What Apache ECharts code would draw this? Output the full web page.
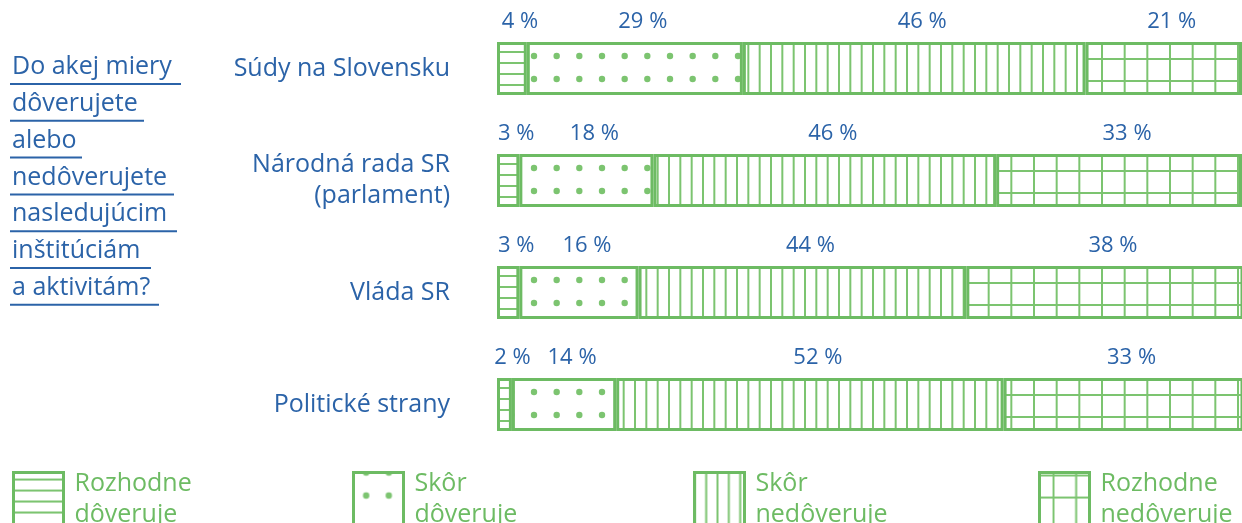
<!DOCTYPE html>
<html>
<head>
<meta charset="utf-8">
<script src="https://cdn.jsdelivr.net/npm/echarts@6/dist/echarts.min.js"></script>
<style>html,body{margin:0;padding:0;background:#fff}#c{width:1242px;height:523px}</style>
</head>
<body>
<div id="c"></div>
<script>
const categories = ['Súdy na Slovensku', 'Národná rada SR\n(parlament)', 'Vláda SR', 'Politické strany'];
const seriesNames = ['Rozhodne dôveruje', 'Skôr dôveruje', 'Skôr nedôveruje', 'Rozhodne nedôveruje'];
const legendLabels = ['Rozhodne\ndôveruje', 'Skôr\ndôveruje', 'Skôr\nnedôveruje', 'Rozhodne\nnedôveruje'];
const rozhodneDoveruje = [4, 3, 3, 2];
const skorDoveruje = [29, 18, 16, 14];
const skorNedoveruje = [46, 46, 44, 52];
const rozhodneNedoveruje = [21, 33, 38, 33];
const titleLines = ['Do akej miery', 'dôverujete', 'alebo', 'nedôverujete', 'nasledujúcim', 'inštitúciám', 'a aktivitám?'];

const BLUE = '#2b63a8';
const GREEN = '#6dbb63';
const LINE = '#7cc470';
const FONT = '"Open Sans", sans-serif';

function makeTile(w, h, draw) {
  const c = document.createElement('canvas');
  c.width = w; c.height = h;
  const ctx = c.getContext('2d');
  ctx.fillStyle = '#fff';
  ctx.fillRect(0, 0, w, h);
  ctx.strokeStyle = LINE;
  ctx.fillStyle = LINE;
  ctx.lineWidth = 2;
  draw(ctx, w, h);
  return { image: c, repeat: 'repeat' };
}
const patHLines = makeTile(20, 56, (ctx, w) => {
  [7, 18, 29, 40, 52].forEach(y => { ctx.beginPath(); ctx.moveTo(0, y); ctx.lineTo(w, y); ctx.stroke(); });
});
const patDots = makeTile(68, 56, (ctx) => {
  [12.67, 35.33, 58].forEach(x => [0, 23, 56].forEach(y => {
    ctx.beginPath(); ctx.arc(x, y, 3.2, 0, Math.PI * 2); ctx.fill();
  }));
});
const patVLines = makeTile(68, 20, (ctx, w, h) => {
  [0.33, 11.67, 23, 34.33, 45.67, 57, 68.33].forEach(x => { ctx.beginPath(); ctx.moveTo(x, 0); ctx.lineTo(x, h); ctx.stroke(); });
});
const patGrid = makeTile(68, 56, (ctx, w, h) => {
  [14, 36.67, 59.33].forEach(x => { ctx.beginPath(); ctx.moveTo(x, 0); ctx.lineTo(x, h); ctx.stroke(); });
  [3, 25].forEach(y => { ctx.beginPath(); ctx.moveTo(0, y); ctx.lineTo(w, y); ctx.stroke(); });
});
const patterns = [patHLines, patDots, patVLines, patGrid];
const values = [rozhodneDoveruje, skorDoveruje, skorNedoveruje, rozhodneNedoveruje];

const chart = echarts.init(document.getElementById('c'), null, { renderer: 'canvas' });

const series = seriesNames.map((name, i) => ({
  name: name,
  type: 'bar',
  stack: 'total',
  barWidth: 53,
  data: values[i],
  itemStyle: { color: patterns[i], borderColor: GREEN, borderWidth: 3 },
  label: {
    show: true, position: 'top', distance: 9, offset: [8, 0],
    formatter: '{c} %', color: BLUE, fontSize: 22, fontFamily: FONT
  },
  emphasis: { disabled: true },
  silent: true
}));

const legendX = [12, 352, 693, 1038];
const legends = seriesNames.map((name, i) => ({
  data: [name],
  left: legendX[i],
  top: 468,
  padding: 0,
  orient: 'horizontal',
  icon: 'rect',
  itemWidth: 50,
  itemHeight: 53,
  itemStyle: { borderColor: GREEN, borderWidth: 3 },
  selectedMode: false,
  formatter: () => legendLabels[i],
  textStyle: { color: GREEN, fontSize: 25, lineHeight: 31, fontFamily: FONT, padding: [0, 0, 0, 6] }
}));

const underlineEnds = [181, 144, 82, 174, 177, 151, 159];
const graphics = [];
titleLines.forEach((t, i) => {
  const yc = 67 + i * 36.8;
  graphics.push({
    type: 'text', x: 12, y: yc,
    style: { text: t, font: '25px ' + FONT, fill: BLUE, verticalAlign: 'middle', align: 'left' }
  });
  graphics.push({
    type: 'line', shape: { x1: 10, y1: yc + 17, x2: underlineEnds[i], y2: yc + 17 },
    style: { stroke: BLUE, lineWidth: 2 }
  });
});

chart.setOption({
  animation: false,
  backgroundColor: '#fff',
  grid: { left: 497, right: 0, top: 12.5, height: 448, containLabel: false },
  xAxis: { type: 'value', min: 0, max: 100, show: false },
  yAxis: {
    type: 'category', data: categories, inverse: true,
    axisLine: { show: false }, axisTick: { show: false }, splitLine: { show: false },
    axisLabel: { color: BLUE, fontSize: 25, lineHeight: 31, fontFamily: FONT, margin: 47, align: 'right' }
  },
  legend: legends,
  series: series,
  graphic: graphics
});
</script>
</body>
</html>
